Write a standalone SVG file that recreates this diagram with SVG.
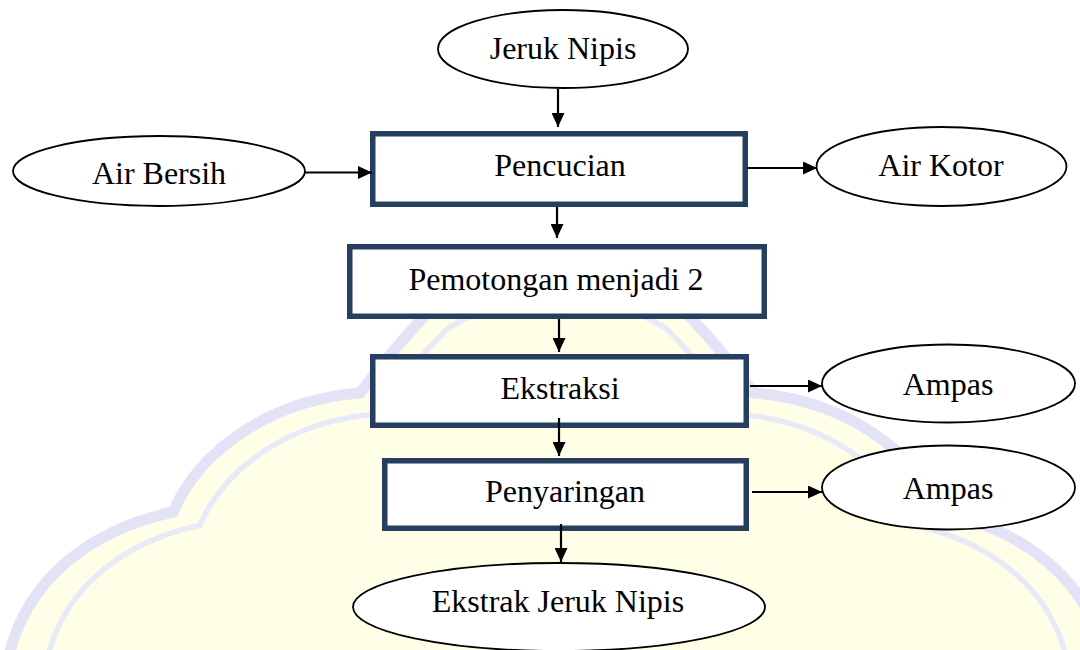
<svg xmlns="http://www.w3.org/2000/svg" width="1080" height="650" viewBox="0 0 1080 650">
  <style>
    .box { fill: #ffffff; stroke: #263f5f; stroke-width: 5.5; }
    .oval { fill: #ffffff; stroke: #000000; stroke-width: 1.8; }
    .lbl { font-family: "Liberation Serif", "Times New Roman", serif; font-size: 32px; fill: #000000; text-anchor: middle; }
    .conn { stroke: #000000; stroke-width: 2.2; fill: none; marker-end: url(#arrow); }
    .wm { fill: #fffee6; stroke: #e2e3f6; stroke-width: 11; }
    .wm2 { fill: none; stroke: #e9eaf8; stroke-width: 6; }
  </style>
  <defs>
    <marker id="arrow" markerUnits="userSpaceOnUse" markerWidth="14" markerHeight="13" refX="14" refY="6.5" orient="auto">
      <path d="M0,0 L14,6.5 L0,13 Z" fill="#000000"/>
    </marker>
  </defs>
  <rect x="0" y="0" width="1080" height="650" fill="#ffffff"/>
  <g id="watermark">
    <path class="wm" d="M 8 660 C 25 580, 90 530, 173 512 C 200 450, 270 400, 360 393 C 385 360, 410 330, 440 300 Q 557 230, 674 300 C 704 330, 729 360, 754 393 C 844 400, 914 450, 941 512 C 1024 530, 1089 580, 1106 660 Z"/>
    <path class="wm2" transform="translate(557 700) scale(0.93) translate(-557 -700)" d="M 8 660 C 25 580, 90 530, 173 512 C 200 450, 270 400, 360 393 C 385 360, 410 330, 440 300 Q 557 230, 674 300 C 704 330, 729 360, 754 393 C 844 400, 914 450, 941 512 C 1024 530, 1089 580, 1106 660 Z"/>
  </g>
  <g id="node-jeruk-nipis">
    <ellipse class="oval" cx="563" cy="49" rx="125" ry="39"/>
    <text class="lbl" x="563" y="59">Jeruk Nipis</text>
  </g>
  <g id="node-air-bersih">
    <ellipse class="oval" cx="159" cy="171" rx="146" ry="35"/>
    <text class="lbl" x="159" y="184">Air Bersih</text>
  </g>
  <g id="node-pencucian">
    <rect class="box" x="372.75" y="133.75" width="372.5" height="70.5"/>
    <text class="lbl" x="560" y="176">Pencucian</text>
  </g>
  <g id="node-air-kotor">
    <ellipse class="oval" cx="941.5" cy="166.5" rx="125" ry="39.5"/>
    <text class="lbl" x="941" y="176">Air Kotor</text>
  </g>
  <g id="node-pemotongan">
    <rect class="box" x="349.75" y="246.75" width="414.5" height="69.5"/>
    <text class="lbl" x="556" y="290">Pemotongan menjadi 2</text>
  </g>
  <g id="node-ekstraksi">
    <rect class="box" x="372.75" y="356.75" width="373.5" height="68.5"/>
    <text class="lbl" x="560" y="399">Ekstraksi</text>
  </g>
  <g id="node-ampas-1">
    <ellipse class="oval" cx="948.5" cy="383.5" rx="126.5" ry="39"/>
    <text class="lbl" x="948" y="395">Ampas</text>
  </g>
  <g id="node-penyaringan">
    <rect class="box" x="384.75" y="460.75" width="361.5" height="67.5"/>
    <text class="lbl" x="565" y="502">Penyaringan</text>
  </g>
  <g id="node-ampas-2">
    <ellipse class="oval" cx="948.5" cy="487.5" rx="126.5" ry="42"/>
    <text class="lbl" x="948" y="499">Ampas</text>
  </g>
  <g id="node-ekstrak-jeruk-nipis">
    <ellipse class="oval" cx="559" cy="607" rx="206" ry="44"/>
    <text class="lbl" x="558" y="612">Ekstrak Jeruk Nipis</text>
  </g>
  <g id="connectors">
    <line class="conn" x1="558" y1="89" x2="558" y2="127"/>
    <line class="conn" x1="305" y1="172.5" x2="372" y2="172.5"/>
    <line class="conn" x1="747" y1="168" x2="817" y2="168"/>
    <line class="conn" x1="557" y1="207" x2="557" y2="238"/>
    <line class="conn" x1="559" y1="319" x2="559" y2="352"/>
    <line class="conn" x1="559" y1="418" x2="559" y2="456"/>
    <line class="conn" x1="561" y1="524" x2="561" y2="562"/>
    <line class="conn" x1="750" y1="386" x2="822" y2="386"/>
    <line class="conn" x1="752" y1="492" x2="822" y2="492"/>
  </g>
</svg>
